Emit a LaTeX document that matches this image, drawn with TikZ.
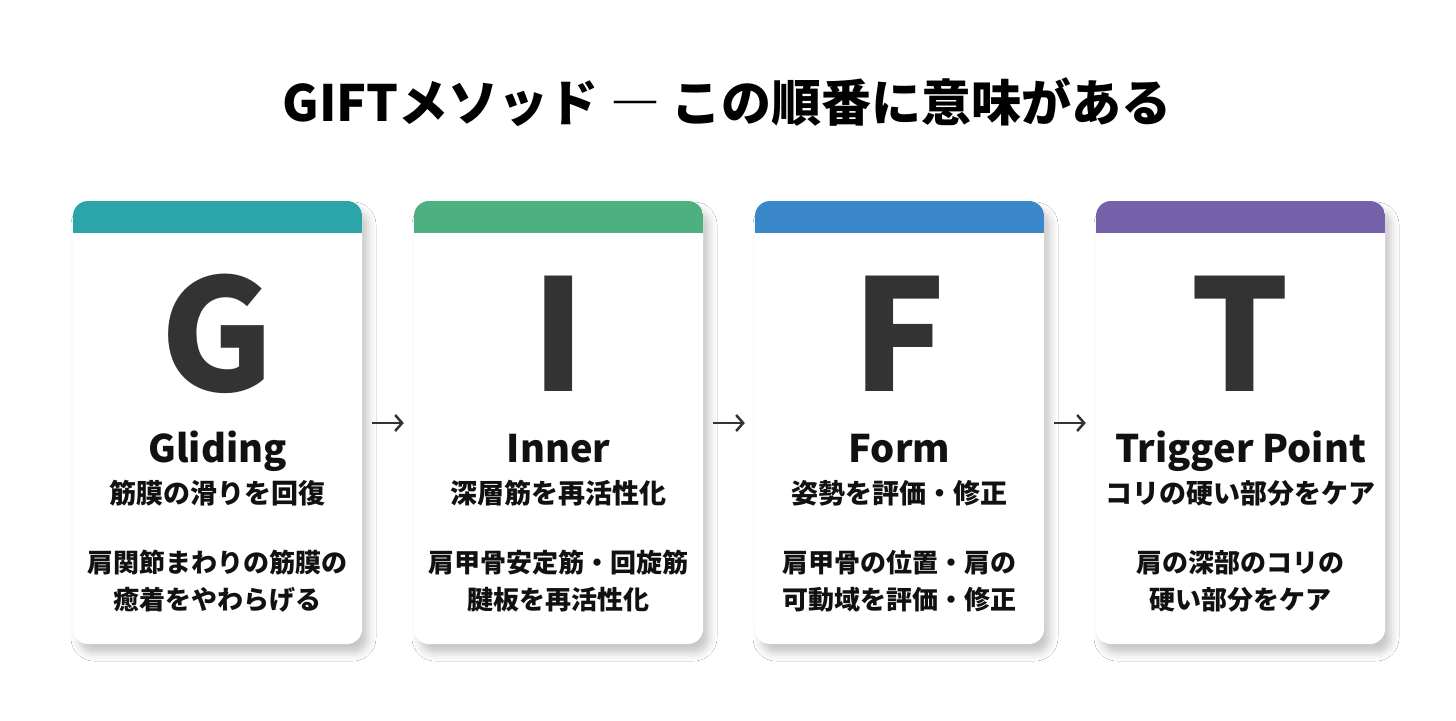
\documentclass[tikz,border=0pt]{standalone}
\usepackage{fontspec}
\setmainfont{Noto Sans CJK JP}
\usetikzlibrary{shadows.blur,arrows.meta}
\definecolor{cteal}{HTML}{2BA5A8}
\definecolor{cgreen}{HTML}{4DB07E}
\definecolor{cblue}{HTML}{3A87C9}
\definecolor{cpurple}{HTML}{7461A9}
\definecolor{bigtxt}{HTML}{333333}
\definecolor{txt}{HTML}{111111}
\tikzset{
  card/.style={rounded corners=15pt, fill=white, minimum width=289pt, minimum height=443pt,
    inner sep=0pt, blur shadow={shadow xshift=6pt, shadow yshift=-9pt, shadow blur radius=8pt, shadow opacity=22},
    path picture={\fill[#1, sharp corners] (path picture bounding box.north west) rectangle ([yshift=-32pt]path picture bounding box.north east);}},
  bigletter/.style={anchor=base, text=bigtxt, font=\fontsize{155}{155}\selectfont\bfseries, inner sep=0pt},
  heading/.style={anchor=base, text=txt, font=\fontsize{38}{40}\selectfont\bfseries, inner sep=0pt},
  subtitle/.style={text=txt, font=\fontsize{27}{30}\selectfont\bfseries, inner sep=0pt},
  desc/.style={text=txt, font=\fontsize{26}{37}\selectfont\bfseries, align=center, inner sep=0pt},
  flow/.style={draw=bigtxt, line width=2.5pt, -{Straight Barb[length=7pt,width=16pt,line width=2.5pt]}},
}
\begin{document}
\begin{tikzpicture}[x=1pt,y=-1pt]
\useasboundingbox[fill=white] (0,0) rectangle (1456,720);
\node[anchor=base, text=black, font=\fontsize{50}{52}\selectfont\bfseries, inner sep=0pt] (title) at (727,121) {GIFTメソッド {\addfontfeatures{RawFeature=+fwid}—} この順番に意味がある};

\node[card=cteal] (c1) at (217.5,422.5) {};
\node[card=cgreen] (c2) at (558.5,422.5) {};
\node[card=cblue] (c3) at (899.5,422.5) {};
\node[card=cpurple] (c4) at (1240.5,422.5) {};

\node[bigletter] (b1) at (217.5,391) {G};
\node[bigletter] (b2) at (558.5,391) {I};
\node[bigletter] (b3) at (899.5,391) {F};
\node[bigletter] (b4) at (1240.5,391) {T};

\node[heading] (h1) at (217.5,462) {Gliding};
\node[heading] (h2) at (558.5,462) {Inner};
\node[heading] (h3) at (899.5,462) {Form};
\node[heading] (h4) at (1240.5,462) {Trigger Point};

\node[subtitle] (s1) at (217.5,493) {筋膜の滑りを回復};
\node[subtitle] (s2) at (558.5,493) {深層筋を再活性化};
\node[subtitle] (s3) at (899.5,493) {姿勢を評価・修正};
\node[subtitle] (s4) at (1240.5,493) {コリの硬い部分をケア};

\node[desc] (d1) at (217.5,581.5) {肩関節まわりの筋膜の\\癒着をやわらげる};
\node[desc] (d2) at (558.5,581.5) {肩甲骨安定筋・回旋筋\\腱板を再活性化};
\node[desc] (d3) at (899.5,581.5) {肩甲骨の位置・肩の\\可動域を評価・修正};
\node[desc] (d4) at (1240.5,581.5) {肩の深部のコリの\\硬い部分をケア};

\draw[flow] ([xshift=10pt]c1.east |- 0,423) -- ([xshift=-10pt]c2.west |- 0,423);
\draw[flow] ([xshift=10pt]c2.east |- 0,423) -- ([xshift=-10pt]c3.west |- 0,423);
\draw[flow] ([xshift=10pt]c3.east |- 0,423) -- ([xshift=-10pt]c4.west |- 0,423);
\end{tikzpicture}
\end{document}
